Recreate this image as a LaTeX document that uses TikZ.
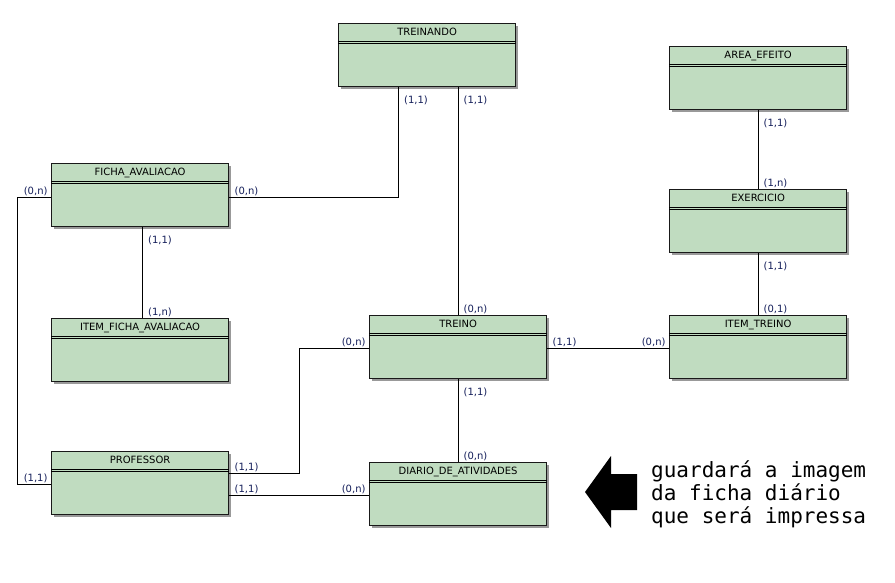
\documentclass[tikz,border=0pt]{standalone}
\usepackage{fontspec}
\usepackage{xcolor}
\usetikzlibrary{shadows}
\newfontfamily\entfont{DejaVu Sans}
\newfontfamily\notafont{DejaVu Sans Mono}
\definecolor{entgreen}{RGB}{192,220,192}
\definecolor{cardblue}{RGB}{20,30,90}
\tikzset{
  entidade/.style={draw=black!90, line width=1.2pt, fill=entgreen, anchor=north west,
    minimum width=177pt, inner xsep=0pt, inner ysep=0pt, text height=12pt, text depth=51pt,
    font=\entfont\fontsize{10}{12}\selectfont,
    drop shadow={shadow xshift=2.5pt, shadow yshift=-2.5pt, fill=black!40, opacity=1}},
  card/.style={font=\entfont\fontsize{10}{12}\selectfont, text=cardblue, inner sep=1pt},
  cardbr/.style={card, anchor=north west, xshift=4pt, yshift=-7pt},
  cardar/.style={card, anchor=south west, xshift=4pt},
  cardal/.style={card, anchor=south east, xshift=-2pt},
  ligacao/.style={line width=1pt},
}

\begin{document}
\begin{tikzpicture}[x=1pt, y=-1pt]
  \useasboundingbox[fill=white] (0,0) rectangle (895,583);

  \node (treinando) [entidade] at (338,23) {TREINANDO};
  \node (areaefeito) [entidade] at (669,46) {AREA\_EFEITO};
  \node (ficha) [entidade] at (51,163) {FICHA\_AVALIACAO};
  \node (exercicio) [entidade] at (669,189) {EXERCICIO};
  \node (itemficha) [entidade] at (51,318) {ITEM\_FICHA\_AVALIACAO};
  \node (treino) [entidade] at (369,315) {TREINO};
  \node (itemtreino) [entidade] at (669,315) {ITEM\_TREINO};
  \node (professor) [entidade] at (51,451) {PROFESSOR};
  \node (diario) [entidade] at (369,462) {DIARIO\_DE\_ATIVIDADES};

  \foreach \e in {treinando,areaefeito,ficha,exercicio,itemficha,treino,itemtreino,professor,diario} {
    \draw[line width=0.8pt] ([yshift=-18pt]\e.north west) -- ([yshift=-18pt]\e.north east);
    \draw[line width=0.8pt] ([yshift=-20.5pt]\e.north west) -- ([yshift=-20.5pt]\e.north east);
  }

  \draw[ligacao] (treino.north) node[cardar] {(0,n)}
    -- (treino.north |- treinando.south) node[cardbr] {(1,1)};
  \draw[ligacao] ([xshift=-28.5pt]treinando.south) node[cardbr] {(1,1)}
    |- ([yshift=-2.5pt]ficha.east) node[cardar] {(0,n)};
  \draw[ligacao] ([xshift=2.5pt]ficha.south) node[cardbr] {(1,1)}
    -- ([xshift=2.5pt]itemficha.north) node[cardar] {(1,n)};
  \draw[ligacao] ([yshift=-2.5pt]ficha.west) node[cardal] {(0,n)}
    -- ++(-34pt,0pt) |- ([yshift=-1.5pt]professor.west) node[cardal] {(1,1)};
  \draw[ligacao] ([yshift=9.5pt]professor.east) node[cardar] {(1,1)}
    -| ([xshift=-70pt,yshift=-1.5pt]treino.west) -- ([yshift=-1.5pt]treino.west) node[cardal] {(0,n)};
  \draw[ligacao] ([yshift=-12.5pt]professor.east) node[cardar] {(1,1)}
    -- ([yshift=-12.5pt]professor.east -| diario.west) node[cardal] {(0,n)};
  \draw[ligacao] (treino.south) node[cardbr] {(1,1)}
    -- (diario.north) node[cardar] {(0,n)};
  \draw[ligacao] ([yshift=-1.5pt]treino.east) node[cardar] {(1,1)}
    -- ([yshift=-1.5pt]itemtreino.west) node[cardal] {(0,n)};
  \draw[ligacao] (areaefeito.south) node[cardbr] {(1,1)}
    -- (exercicio.north) node[cardar] {(1,n)};
  \draw[ligacao] (exercicio.south) node[cardbr] {(1,1)}
    -- (itemtreino.north) node[cardar] {(0,1)};

  \fill (585,492) -- (611,456) -- (611,474) -- (637,474) -- (637,510) -- (611,510) -- (611,528) -- cycle;
  \node (nota) [anchor=north west, inner sep=0pt, align=left,
    font=\notafont\fontsize{21}{23}\selectfont] at (651,461)
    {guardará a imagem\\da ficha diário\\que será impressa};
\end{tikzpicture}
\end{document}
